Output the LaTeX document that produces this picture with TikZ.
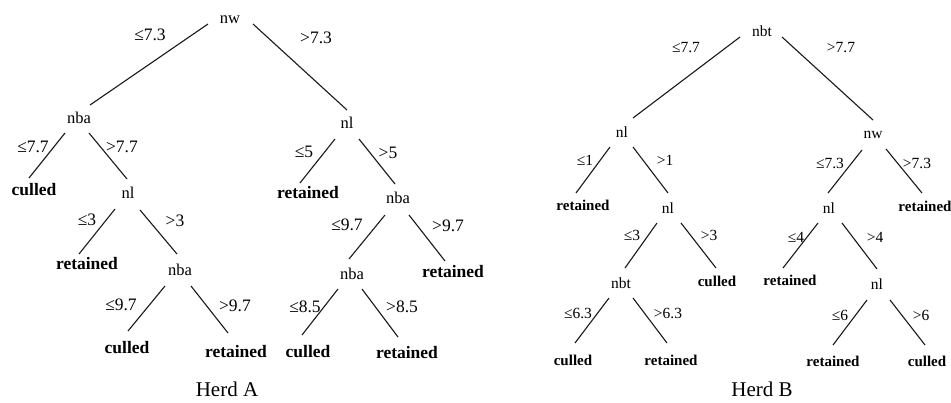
\documentclass[tikz,border=0pt]{standalone}
\usepackage{fontspec}
\setmainfont{Liberation Serif}
\usetikzlibrary{calc}
\tikzset{
  x=1pt,y=-1pt,
  anode/.style={inner sep=0pt,font=\fontsize{16.5}{18}\selectfont},
  aleaf/.style={inner sep=0pt,font=\fontsize{17.5}{19}\selectfont\bfseries},
  alab/.style={inner sep=0pt,font=\fontsize{17.5}{19}\selectfont},
  bnode/.style={inner sep=0pt,font=\fontsize{15.5}{17}\selectfont},
  bleaf/.style={inner sep=0pt,font=\fontsize{15}{17}\selectfont\bfseries},
  blab/.style={inner sep=0pt,font=\fontsize{15.5}{17}\selectfont},
  captext/.style={inner sep=0pt,font=\fontsize{21}{24}\selectfont},
  conn/.style={line width=1.1pt,draw=black!90}
}
\begin{document}
\begin{tikzpicture}
\useasboundingbox[fill=white] (0,0) rectangle (951,402);
% ---------- Herd A ----------
\node[anode] (A1) at (230,20) {nw};
\node[anode] (A2) at (79,118) {nba};
\node[anode] (A3) at (347,123) {nl};
\node[aleaf] (A4) at (34,190) {culled};
\node[anode] (A5) at (128,193) {nl};
\node[aleaf] (A6) at (87,264) {retained};
\node[anode] (A7) at (180,270) {nba};
\node[aleaf] (A8) at (127,348) {culled};
\node[aleaf] (A9) at (236,352) {retained};
\node[aleaf] (A10) at (308,193) {retained};
\node[anode] (A11) at (398,198) {nba};
\node[anode] (A12) at (352,274) {nba};
\node[aleaf] (A13) at (453,272) {retained};
\node[aleaf] (A14) at (308,352) {culled};
\node[aleaf] (A15) at (407,353) {retained};

\draw[conn] ($(A1)+(-22,4)$) -- ($(A2)+(11,-13)$);
\draw[conn] ($(A1)+(23,4)$) -- ($(A3)+(0,-13)$);
\draw[conn] ($(A2)+(-14,15)$) -- ($(A4)+(-5,-12)$);
\draw[conn] ($(A2)+(10,15)$) -- ($(A5)+(-1,-14)$);
\draw[conn] ($(A5)+(-13,16)$) -- ($(A6)+(-8,-10)$);
\draw[conn] ($(A5)+(12,17)$) -- ($(A7)+(-3,-16)$);
\draw[conn] ($(A7)+(-15,16)$) -- ($(A8)+(1,-17)$);
\draw[conn] ($(A7)+(11,16)$) -- ($(A9)+(-8,-19)$);
\draw[conn] ($(A3)+(-12,16)$) -- ($(A10)+(-8,-10)$);
\draw[conn] ($(A3)+(12,16)$) -- ($(A11)+(-3,-14)$);
\draw[conn] ($(A11)+(-13,17)$) -- ($(A12)+(-3,-15)$);
\draw[conn] ($(A11)+(11,17)$) -- ($(A13)+(-8,-11)$);
\draw[conn] ($(A12)+(-14,15)$) -- ($(A14)+(-6,-17)$);
\draw[conn] ($(A12)+(10,15)$) -- ($(A15)+(-9,-16)$);

\node[alab] (LA1) at (150,35) {≤7.3};
\node[alab] (LA2) at (316,38) {>7.3};
\node[alab] (LA3) at (33,147) {≤7.7};
\node[alab] (LA4) at (122,147) {>7.7};
\node[alab] (LA5) at (87,220) {≤3};
\node[alab] (LA6) at (175,221) {>3};
\node[alab] (LA7) at (121,305) {≤9.7};
\node[alab] (LA8) at (235,306) {>9.7};
\node[alab] (LA9) at (304,152) {≤5};
\node[alab] (LA10) at (388,153) {>5};
\node[alab] (LA11) at (347,225) {≤9.7};
\node[alab] (LA12) at (448,226) {>9.7};
\node[alab] (LA13) at (305,307) {≤8.5};
\node[alab] (LA14) at (402,307) {>8.5};
\node[captext] (CA) at (227,389) {Herd A};

% ---------- Herd B ----------
\node[bnode] (B1) at (762,31) {nbt};
\node[bnode] (B2) at (622,132) {nl};
\node[bnode] (B3) at (873,135) {nw};
\node[bleaf] (B4) at (583,205) {retained};
\node[bnode] (B5) at (668,208) {nl};
\node[bnode] (B6) at (621,283) {nbt};
\node[bleaf] (B7) at (717,281) {culled};
\node[bleaf] (B8) at (573,360) {culled};
\node[bleaf] (B9) at (671,360) {retained};
\node[bnode] (B10) at (829,208) {nl};
\node[bleaf] (B11) at (925,206) {retained};
\node[bleaf] (B12) at (790,280) {retained};
\node[bnode] (B13) at (877,284) {nl};
\node[bleaf] (B14) at (833,361) {retained};
\node[bleaf] (B15) at (927,361) {culled};

\draw[conn] ($(B1)+(-22,6)$) -- ($(B2)+(11,-14)$);
\draw[conn] ($(B1)+(20,6)$) -- ($(B3)+(0,-15)$);
\draw[conn] ($(B2)+(-12,15)$) -- ($(B4)+(-7,-12)$);
\draw[conn] ($(B2)+(11,15)$) -- ($(B5)+(0,-15)$);
\draw[conn] ($(B5)+(-11,15)$) -- ($(B6)+(4,-15)$);
\draw[conn] ($(B5)+(13,15)$) -- ($(B7)+(-1,-13)$);
\draw[conn] ($(B6)+(-12,15)$) -- ($(B8)+(2,-17)$);
\draw[conn] ($(B6)+(12,15)$) -- ($(B9)+(-4,-17)$);
\draw[conn] ($(B3)+(-11,15)$) -- ($(B10)+(-1,-15)$);
\draw[conn] ($(B3)+(13,14)$) -- ($(B11)+(-3,-13)$);
\draw[conn] ($(B10)+(-11,15)$) -- ($(B12)+(-7,-12)$);
\draw[conn] ($(B10)+(13,15)$) -- ($(B13)+(0,-15)$);
\draw[conn] ($(B13)+(-10,16)$) -- ($(B14)+(0,-16)$);
\draw[conn] ($(B13)+(13,16)$) -- ($(B15)+(-2,-16)$);

\node[blab] (LB1) at (686,48) {≤7.7};
\node[blab] (LB2) at (841,48) {>7.7};
\node[blab] (LB3) at (585,160) {≤1};
\node[blab] (LB4) at (665,160) {>1};
\node[blab] (LB5) at (632,235) {≤3};
\node[blab] (LB6) at (709,235) {>3};
\node[blab] (LB7) at (578,313) {≤6.3};
\node[blab] (LB8) at (668,313) {>6.3};
\node[blab] (LB9) at (830,163) {≤7.3};
\node[blab] (LB10) at (917,163) {>7.3};
\node[blab] (LB11) at (796,237) {≤4};
\node[blab] (LB12) at (875,237) {>4};
\node[blab] (LB13) at (840,315) {≤6};
\node[blab] (LB14) at (921,315) {>6};
\node[captext] (CB) at (762,389) {Herd B};
\end{tikzpicture}
\end{document}
